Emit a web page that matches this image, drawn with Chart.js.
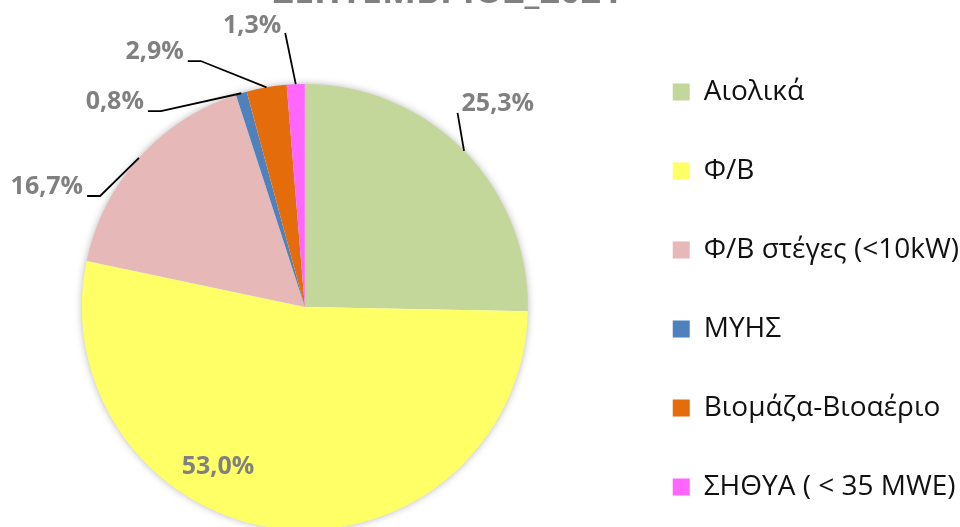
<!DOCTYPE html>
<html>
<head>
<meta charset="utf-8">
<script src="https://cdn.jsdelivr.net/npm/chart.js@4.4.0/dist/chart.umd.min.js"></script>
<style>
  html, body { margin: 0; padding: 0; background: #fff; }
  body { width: 960px; height: 527px; overflow: hidden; position: relative; }
  #chart { position: absolute; left: -12px; top: -23px; }
</style>
</head>
<body>
<canvas id="chart" width="981" height="625"></canvas>
<script>
const categories = ['Αιολικά', 'Φ/Β', 'Φ/Β στέγες (<10kW)', 'ΜΥΗΣ', 'Βιομάζα-Βιοαέριο', 'ΣΗΘΥΑ ( < 35 MWE)'];
const shares = [25.3, 53.0, 16.7, 0.8, 2.9, 1.3];
const chartTitle = 'ΣΕΠΤΕΜΒΡΙΟΣ_2021';

const sliceColors = ['#C4D79B', '#FFFF66', '#E6B9B8', '#4F81BD', '#E46C0A', '#FF66FF'];
// where each % label sits: [turn from slice middle in degrees, distance in radii]
const labelPlacement = [[-2, 1.256], [22, 0.817], [-17, 1.276], [-26.3, 1.253], [-20.6, 1.327], [-8.3, 1.282]];

const fmt = v => v.toFixed(1).replace('.', ',') + '%';

// soft shadow under the pie, like the office chart
const pieShadow = {
  id: 'pieShadow',
  beforeDatasetsDraw(chart) {
    const arc = chart.getDatasetMeta(0).data[0];
    if (!arc) return;
    const ctx = chart.ctx;
    ctx.save();
    ctx.shadowColor = 'rgba(0,0,0,0.35)';
    ctx.shadowBlur = 9;
    ctx.fillStyle = '#fff';
    ctx.beginPath();
    ctx.arc(arc.x, arc.y, arc.outerRadius - 1, 0, Math.PI * 2);
    ctx.fill();
    ctx.restore();
  }
};

// percentage labels with leader lines
const sliceLabels = {
  id: 'sliceLabels',
  afterDatasetsDraw(chart) {
    const ctx = chart.ctx;
    ctx.save();
    ctx.font = 'bold 25px "Open Sans"';
    ctx.textAlign = 'center';
    ctx.textBaseline = 'middle';
    chart.getDatasetMeta(0).data.forEach((arc, i) => {
      const {x, y, startAngle, endAngle, outerRadius} =
        arc.getProps(['x', 'y', 'startAngle', 'endAngle', 'outerRadius'], true);
      const mid = (startAngle + endAngle) / 2;
      const [shift, dist] = labelPlacement[i];
      const a = mid + shift * Math.PI / 180;
      const lx = x + Math.cos(a) * outerRadius * dist;
      const ly = y + Math.sin(a) * outerRadius * dist;
      const text = fmt(shares[i]);
      if (dist > 1) {
        const ax = x + Math.cos(mid) * outerRadius;
        const ay = y + Math.sin(mid) * outerRadius;
        const half = ctx.measureText(text).width / 2;
        const by = ly + 9;
        ctx.strokeStyle = '#000';
        ctx.lineWidth = 1.8;
        ctx.beginPath();
        ctx.moveTo(ax, ay);
        if (lx < ax - 60) {
          ctx.lineTo(lx + half + 17, by);
          ctx.lineTo(lx + half + 4, by);
        } else if (lx < ax) {
          ctx.lineTo(lx + half + 4, by - 2);
        } else {
          ctx.lineTo(lx - half - 4, by);
        }
        ctx.stroke();
      }
      ctx.fillStyle = '#808080';
      ctx.fillText(text, lx, ly);
    });
    ctx.restore();
  }
};

const ctx = document.getElementById('chart').getContext('2d');
let pieChart = new Chart(ctx, {
  type: 'pie',
  data: {
    labels: categories,
    datasets: [
      {
        data: shares,
        backgroundColor: sliceColors,
        borderWidth: 0,
        radius: 223
      }
    ]
  },
  options: {
    responsive: false,
    animation: false,
    devicePixelRatio: 1,
    plugins: {
      title: {
        display: true,
        text: chartTitle,
        fullSize: false,
        align: 'end',
        color: '#808080',
        font: {family: 'Open Sans', size: 36, weight: 'bold', lineHeight: 0.9},
        padding: {top: 0, bottom: 2.6}
      },
      legend: {
        position: 'right',
        labels: {
          color: '#111',
          font: {family: 'Open Sans', size: 28},
          boxWidth: 17,
          boxHeight: 17,
          padding: 51
        }
      },
      tooltip: {enabled: false}
    }
  },
  plugins: [pieShadow, sliceLabels]
});
</script>
</body>
</html>
